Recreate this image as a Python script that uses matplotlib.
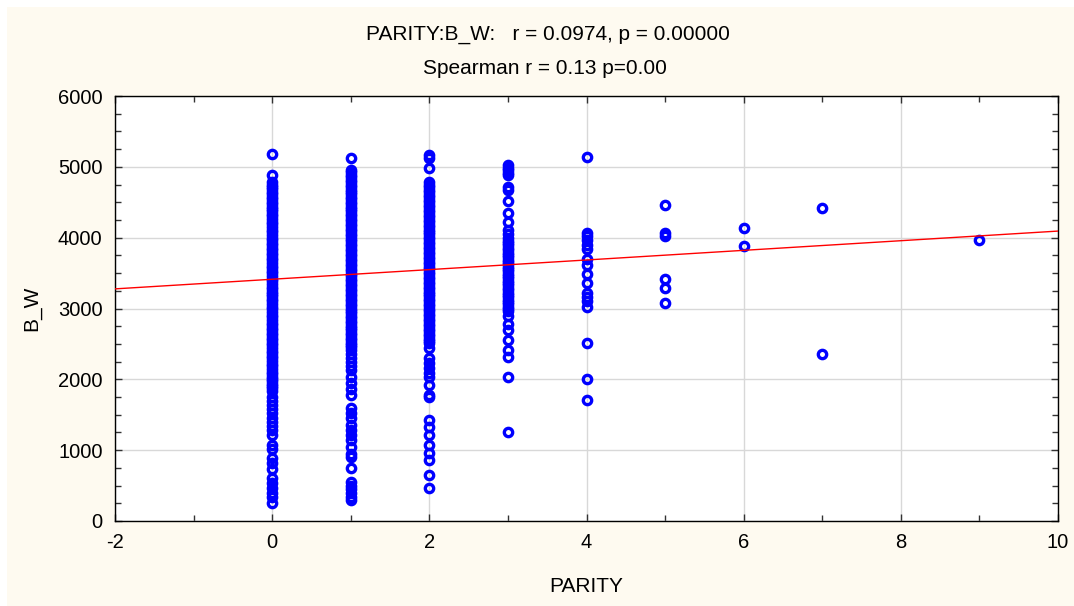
import matplotlib
matplotlib.use("Agg")
import matplotlib.pyplot as plt
from matplotlib.patches import Rectangle
from matplotlib.ticker import MultipleLocator

plt.rcParams['font.family'] = ['Liberation Sans', 'DejaVu Sans']
plt.rcParams['axes.unicode_minus'] = False

# ---- data ----
bw_parity0 = [5181, 4885,
    4780, 4750, 4720, 4690, 4650, 4620, 4580, 4550, 4510, 4480, 4440, 4400, 4370, 4330,
    4300, 4260, 4220, 4190, 4150, 4110, 4080, 4040, 4000, 3970, 3930, 3900, 3860, 3820,
    3790, 3750, 3710, 3680, 3640, 3600, 3570, 3530, 3500, 3460, 3420, 3390, 3350, 3310,
    3280, 3240, 3200, 3170, 3130, 3100, 3060, 3020, 2990, 2950, 2910, 2880, 2840, 2800,
    2770, 2730, 2700, 2660, 2620, 2590, 2550, 2510, 2480, 2440, 2400, 2370, 2330, 2300,
    2260, 2220, 2190, 2150, 2110, 2080, 2040, 2000, 1970, 1930, 1900, 1880,
    1830, 1755, 1700, 1640, 1580, 1520, 1460, 1400, 1340, 1280, 1214, 1073, 1010,
    889, 820, 740, 607, 540, 466, 400, 339, 254]
bw_parity1 = [5130,
    4960, 4930, 4890, 4860, 4820, 4790, 4750, 4720, 4680, 4650, 4610, 4580, 4540, 4510,
    4470, 4440, 4400, 4370, 4330, 4300, 4260, 4230, 4190, 4160, 4120, 4090, 4050, 4020,
    3980, 3950, 3910, 3880, 3840, 3810, 3770, 3740, 3700, 3670, 3630, 3600, 3560, 3530,
    3490, 3460, 3420, 3390, 3350, 3320, 3280, 3250, 3210, 3180, 3140, 3110, 3070, 3040,
    3000, 2970, 2930, 2900, 2860, 2830, 2790, 2760, 2720, 2690, 2650, 2620, 2580, 2550,
    2510, 2480, 2460, 2410, 2360, 2300, 2250, 2190, 2130,
    2033, 1948, 1860, 1779, 1595, 1520, 1454, 1360, 1285, 1210, 1144, 1045, 950,
    904, 748, 550, 500, 450, 390, 340, 290]
bw_parity2 = [5170, 5130, 4990,
    4780, 4745, 4710, 4675, 4640, 4605, 4570, 4535, 4500, 4465, 4430, 4395, 4360, 4325,
    4290, 4255, 4220, 4185, 4150, 4115, 4080, 4045, 4010, 3975, 3940, 3905, 3870, 3835,
    3800, 3765, 3730, 3695, 3660, 3625, 3590, 3555, 3520, 3485, 3450, 3415, 3380, 3345,
    3310, 3275, 3240, 3205, 3170, 3135, 3100, 3065, 3030, 2995, 2960, 2925, 2890, 2855,
    2820, 2785, 2750, 2715, 2680, 2645, 2610, 2575, 2540, 2513,
    2442, 2301, 2231, 2160, 2090, 2030, 1920, 1780, 1750, 1426, 1327, 1214, 1073,
    960, 861, 650, 466]
bw_parity3 = [5028, 4990, 4960, 4920, 4880, 4716, 4680, 4518, 4348, 4221, 4108, 4050,
    3990, 3960, 3925, 3890, 3860, 3825, 3790, 3760, 3725, 3690, 3660, 3625, 3590, 3560,
    3525, 3490, 3460, 3425, 3390, 3360, 3325, 3290, 3260, 3225, 3190, 3160, 3125, 3090,
    3060, 3025, 2990, 2960,
    2894, 2781, 2697, 2555, 2414, 2315, 2033, 1257]
bw_parity4 = [5144, 4062, 4024, 3967, 3897, 3836, 3694, 3614, 3487, 3365, 3215, 3167,
    3110, 3026, 2517, 2001, 1708]
bw_parity5 = [4461, 4062, 4024, 3412, 3285, 3082]
bw_parity6 = [4132, 3887]
bw_parity7 = [4415, 2358]
bw_parity9 = [3967]

parity_groups = [0, 1, 2, 3, 4, 5, 6, 7, 9]
bw_groups = [bw_parity0, bw_parity1, bw_parity2, bw_parity3, bw_parity4,
             bw_parity5, bw_parity6, bw_parity7, bw_parity9]

fit_intercept = 3413
fit_slope = 68
fit_x = [-2, 10]

title_line1 = "PARITY:B_W:   r = 0.0974, p = 0.00000"
title_line2 = "Spearman r = 0.13 p=0.00"
x_label = "PARITY"
y_label = "B_W"

# ---- figure ----
W, H = 1074, 606
fig = plt.figure(figsize=(W / 100, H / 100), dpi=100, facecolor='white')
fig.patches.append(Rectangle((7 / W, 0), 1 - 7 / W, 1 - 7 / H, transform=fig.transFigure,
                             facecolor='#FEFAF0', edgecolor='none', zorder=-10))

ax = fig.add_axes([115 / W, (H - 521) / H, 943 / W, 425 / H])
ax.set_facecolor('white')

for px, vals in zip(parity_groups, bw_groups):
    ax.plot([px] * len(vals), vals, linestyle='none', marker='o', ms=6.0, mew=2.4,
            mfc='none', mec='#0000FF', zorder=3)

ax.plot(fit_x, [fit_intercept + fit_slope * v for v in fit_x], color='#FF0000', lw=1.0, zorder=4)

ax.set_xlim(-2, 10)
ax.set_ylim(0, 6000)
ax.xaxis.set_major_locator(MultipleLocator(2))
ax.xaxis.set_minor_locator(MultipleLocator(1))
ax.yaxis.set_major_locator(MultipleLocator(1000))
ax.yaxis.set_minor_locator(MultipleLocator(250))
ax.grid(True, which='major', color='#D8D8D8', lw=1.0, zorder=0)
ax.set_axisbelow(True)

ax.tick_params(which='both', direction='in', top=True, right=True, color='#333333',
               labelsize=14.5, pad=9)
ax.tick_params(which='major', length=5, width=1)
ax.tick_params(which='minor', length=4, width=1)
for s in ax.spines.values():
    s.set_color('black')
    s.set_linewidth(1.0)

fig.text(548 / W, 1 - 34 / H, title_line1, ha='center', va='center', fontsize=15)
fig.text(545 / W, 1 - 68 / H, title_line2, ha='center', va='center', fontsize=15)
fig.text(586 / W, 1 - 586 / H, x_label, ha='center', va='center', fontsize=15)
fig.text(32 / W, 1 - 308 / H, y_label, ha='center', va='center', fontsize=15, rotation=90)

fig.savefig('out.png', dpi=100, facecolor=fig.get_facecolor())
